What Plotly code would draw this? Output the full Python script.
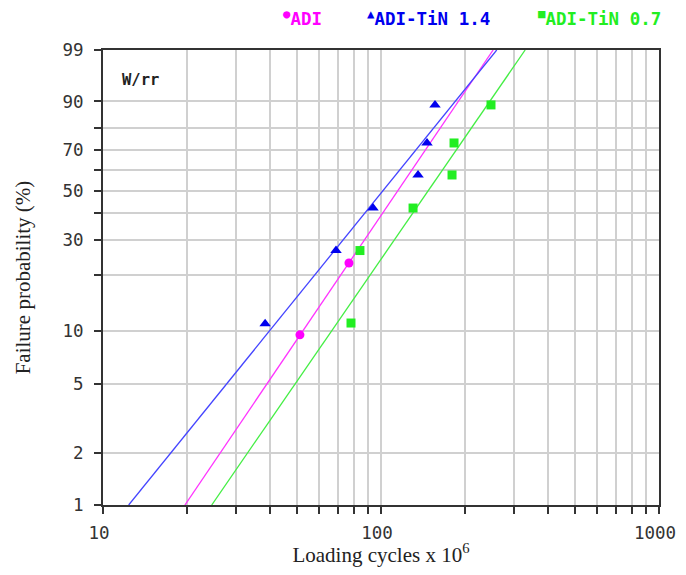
import numpy as np
import plotly.graph_objects as go

# ---- data ----
series_names = ["ADI", "ADI-TiN 1.4", "ADI-TiN 0.7"]
series_colors = ["#ff00ff", "#0000ee", "#22ee22"]
line_colors = ["#ff33ff", "#4444ff", "#44ee44"]
series_symbols = ["circle", "triangle-up", "square"]
legend_glyphs = ["●", "▲", "■"]

adi_cycles = [51.1, 76.7]
adi_prob = [9.46, 23.0]

tin14_cycles = [38.3, 68.9, 93.6, 135.9, 146.4, 156.4]
tin14_prob = [10.9, 26.6, 42.2, 57.5, 73.2, 88.9]

tin07_cycles = [78.0, 84.0, 130.4, 180.1, 183.1, 248.7]
tin07_prob = [11.0, 26.6, 42.2, 57.5, 73.2, 88.9]

# Weibull fit parameters (shape beta, scale eta) of the drawn lines
fit_beta = [2.40, 2.01, 2.36]
fit_eta = [134.0, 122.0, 172.8]

y_tick_pct = [1, 2, 5, 10, 20, 30, 40, 50, 60, 70, 80, 90, 99]
y_tick_text = ["1", "2", "5", "10", "", "30", "", "50", "", "70", "", "90", "99"]
x_tick_vals = [10, 20, 30, 40, 50, 60, 70, 80, 90, 100,
               200, 300, 400, 500, 600, 700, 800, 900, 1000]
x_tick_text = ["10", "", "", "", "", "", "", "", "", "100",
               "", "", "", "", "", "", "", "", "1000"]


def wb(p_pct):
    p = np.asarray(p_pct, dtype=float) / 100.0
    return np.log(-np.log(1.0 - p))


w_lo = float(wb(1))
w_hi = float(wb(99))

fig = go.Figure()

all_cycles = [adi_cycles, tin14_cycles, tin07_cycles]
all_prob = [adi_prob, tin14_prob, tin07_prob]

# fitted lines
for i in range(3):
    w_line = np.array([w_lo, w_hi])
    x_line = fit_eta[i] * np.exp(w_line / fit_beta[i])
    fig.add_trace(go.Scatter(
        x=x_line, y=w_line, mode="lines",
        line=dict(color=line_colors[i], width=1.3),
        showlegend=False, hoverinfo="skip"))

# data points
for i in range(3):
    fig.add_trace(go.Scatter(
        x=all_cycles[i], y=wb(all_prob[i]), mode="markers",
        name=series_names[i],
        marker=dict(symbol=series_symbols[i], color=series_colors[i],
                    size=9 if i != 1 else 10, line=dict(width=0)),
        showlegend=False))

tick_font = dict(family="DejaVu Sans Mono", size=17.5, color="#333333")
title_font = dict(family="Liberation Serif", size=21, color="#222222")

fig.update_xaxes(
    type="log", range=[1, 3], automargin=False,
    tickmode="array", tickvals=x_tick_vals, ticktext=x_tick_text,
    ticks="outside", ticklen=7, tickwidth=1.5, tickcolor="#333333",
    ticklabelstandoff=4, ticklabelshift=-4,
    showgrid=True, gridcolor="#d0d0d0", gridwidth=1.5,
    showline=True, linecolor="#333333", linewidth=2, mirror=True,
    tickfont=tick_font, zeroline=False,
    title=dict(text="Loading cycles x 10<sup>6</sup>", font=title_font, standoff=18),
)
fig.update_yaxes(
    range=[w_lo, w_hi], automargin=False,
    tickmode="array", tickvals=wb(y_tick_pct), ticktext=y_tick_text,
    ticks="outside", ticklen=7, tickwidth=1.5, tickcolor="#333333",
    ticklabelstandoff=7,
    showgrid=True, gridcolor="#d0d0d0", gridwidth=1.5,
    showline=True, linecolor="#333333", linewidth=2, mirror=True,
    tickfont=tick_font, zeroline=False,
    title=dict(text="Failure probability (%)", font=title_font, standoff=26),
)

# legend-like labels at the top
legend_x = [0.3200, 0.4710, 0.7790]
for i in range(3):
    fig.add_annotation(
        xref="paper", yref="paper", x=legend_x[i], y=1.07,
        xanchor="left", yanchor="middle", showarrow=False,
        text=f"<b><sup>{legend_glyphs[i]}</sup>{series_names[i]}</b>",
        font=dict(family="DejaVu Sans Mono", size=17.5, color=series_colors[i]),
    )

fig.add_annotation(
    xref="paper", yref="paper", x=(120 - 103) / 556, y=1 - (80 - 50) / 455,
    xanchor="left", yanchor="middle", showarrow=False,
    text="<b>W/rr</b>",
    font=dict(family="DejaVu Sans Mono", size=15.5, color="#222222"),
)

# the page body adds an 8px margin on each side, so the figure is sized to fit inside it
fig.update_layout(
    width=670, height=559,
    margin=dict(l=95, r=19, t=42, b=62),
    paper_bgcolor="white", plot_bgcolor="white",
    showlegend=False,
)

fig.write_html("out.html")
